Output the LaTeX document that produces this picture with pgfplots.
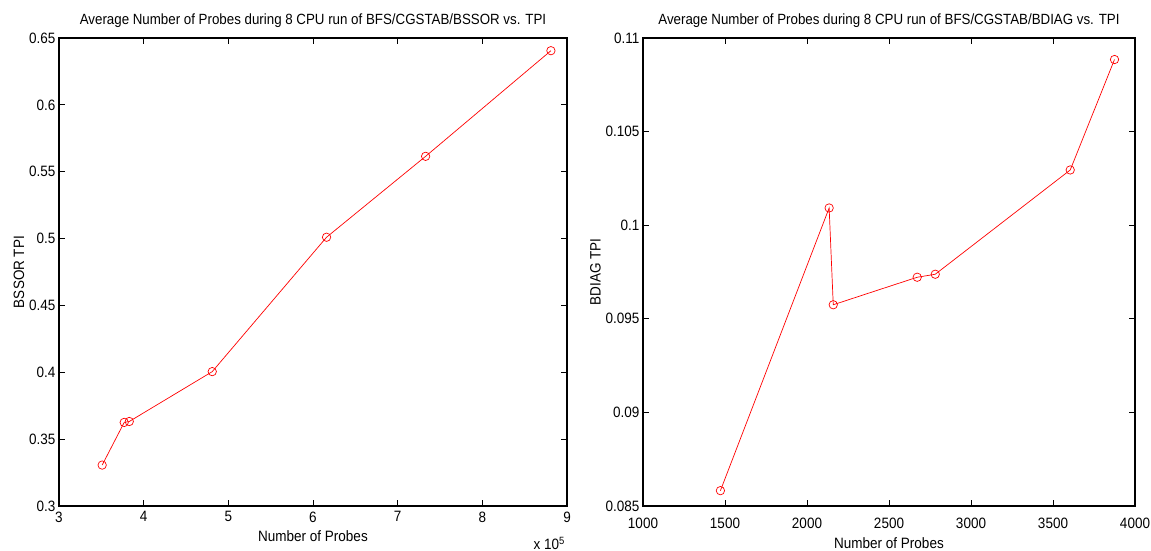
\documentclass[border=0pt]{standalone}
\usepackage{fontspec}
\setmainfont{Liberation Sans}[FakeStretch=0.9]
\usepackage{pgfplots}
\pgfplotsset{compat=1.18}

\pgfplotsset{
  matlab/.style={
    scale only axis,
    height=468pt,
    clip=false,
    axis line style={line width=1.3pt},
    tick style={black, line width=0.8pt},
    major tick length=6pt,
    tick align=inside,
    xtick pos=both, ytick pos=both,
    tick label style={font=\fontsize{15}{15}\selectfont},
    label style={font=\fontsize{15}{15}\selectfont},
    title style={font=\fontsize{14.8}{15}\selectfont},
    /pgf/number format/assume math mode=true,
    /pgf/number format/fixed,
    /pgf/number format/precision=3,
    /pgf/number format/1000 sep={},
    scaled ticks=false,
  },
  trace/.style={red, line width=0.7pt, mark=o, mark size=4.2pt,
    mark options={line width=0.7pt}},
}

\begin{document}
\begin{tikzpicture}[x=1pt,y=1pt]
\useasboundingbox (0,0) rectangle (1151,551);

% left: BSSOR
\begin{axis}[matlab,
    at={(59pt,45pt)}, anchor=south west,
    width=508pt,
    xmin=3, xmax=9, ymin=0.3, ymax=0.65,
    xtick={3,4,...,9},
    ytick={0.3,0.35,0.4,0.45,0.5,0.55,0.6,0.65},
    xlabel={Number of Probes},
    ylabel={BSSOR TPI},
    xticklabel style={yshift=-2pt},
    xlabel style={yshift=-2pt},
    ylabel style={yshift=-2pt},
    title={Average Number of Probes during 8 CPU run of BFS/CGSTAB/BSSOR vs. TPI},
    title style={yshift=1pt},
]
\addplot[trace] coordinates {
  (3.51,0.3306) (3.77,0.3625) (3.83,0.3632) (4.81,0.4005)
  (6.16,0.5010) (7.33,0.5615) (8.81,0.6405)
};
\node[anchor=base east, font=\fontsize{15}{15}\selectfont, inner sep=0pt]
  at (rel axis cs:1,0) [yshift=-44pt, xshift=-2pt] {x 10\textsuperscript{5}};
\end{axis}

% right: BDIAG
\begin{axis}[matlab,
    at={(643pt,45pt)}, anchor=south west,
    width=492pt,
    xmin=1000, xmax=4000, ymin=0.085, ymax=0.11,
    xtick={1000,1500,...,4000},
    ytick={0.085,0.09,0.095,0.1,0.105,0.11},
    xlabel={Number of Probes},
    ylabel={BDIAG TPI},
    xticklabel style={yshift=-8pt},
    xlabel style={yshift=-2.5pt},
    ylabel style={yshift=-2pt},
    title={Average Number of Probes during 8 CPU run of BFS/CGSTAB/BDIAG vs. TPI},
    title style={yshift=1pt},
]
\addplot[trace] coordinates {
  (1472,0.08582) (2135,0.10092) (2160,0.09575) (2672,0.09722)
  (2782,0.09738) (3605,0.10295) (3875,0.10885)
};
\end{axis}
\end{tikzpicture}
\end{document}
